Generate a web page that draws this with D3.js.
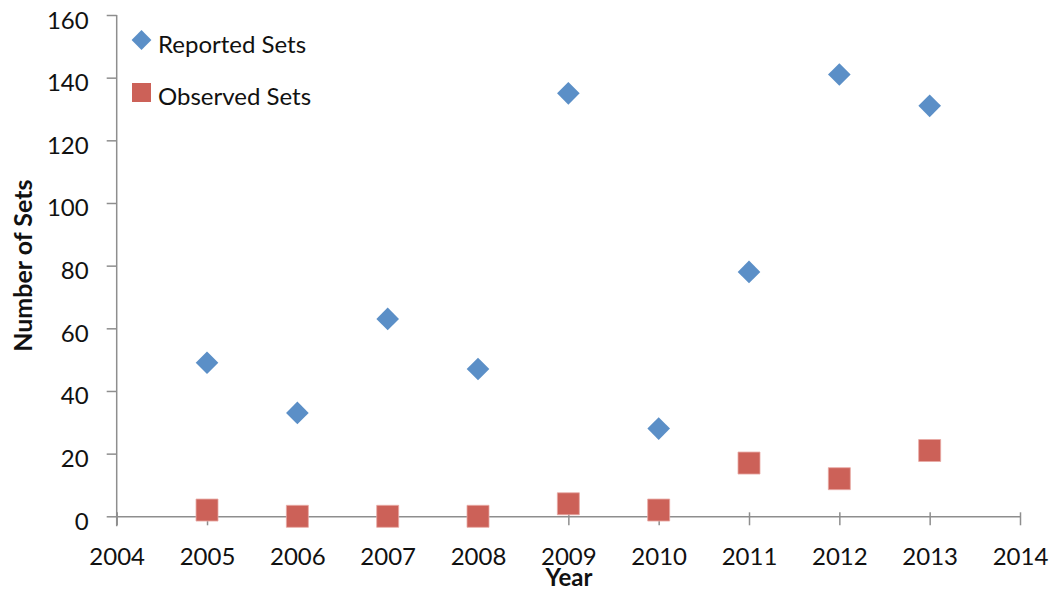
<!DOCTYPE html>
<html>
<head>
<meta charset="utf-8">
<script src="https://cdn.jsdelivr.net/npm/d3@7"></script>
<style>
  html, body { margin: 0; padding: 0; background: #fff; }
  svg { display: block; }
  text { font-family: Lato, "Open Sans", sans-serif; fill: #111; }
</style>
</head>
<body>
<svg id="chart" width="1050" height="590"></svg>
<script>
const years = [2005, 2006, 2007, 2008, 2009, 2010, 2011, 2012, 2013];
const reportedSets = [49, 33, 63, 47, 135, 28, 78, 141, 131];
const observedSets = [2, 0, 0, 0, 4, 2, 17, 12, 21];
const xTicks = [2004, 2005, 2006, 2007, 2008, 2009, 2010, 2011, 2012, 2013, 2014];
const yTicks = [0, 20, 40, 60, 80, 100, 120, 140, 160];
const seriesNames = ["Reported Sets", "Observed Sets"];
const seriesColors = ["#5b8fc7", "#cc6158"];

const svg = d3.select("#chart");
const x = d3.scaleLinear().domain([2004, 2014]).range([116.7, 1020]);
const y = d3.scaleLinear().domain([0, 160]).range([516.3, 15]);
const axisColor = "#8e8e8e";

// Y axis
const yAxis = svg.append("g")
  .attr("transform", `translate(${x(2004)},0)`)
  .call(d3.axisLeft(y).tickValues(yTicks).tickSize(10).tickFormat(d3.format("d")));
yAxis.select(".domain").attr("stroke", axisColor).attr("stroke-width", 1.5)
  .attr("d", `M-0,${y(160)}V${y(0) + 10}`);
yAxis.selectAll(".tick line").attr("stroke", axisColor).attr("stroke-width", 1.5);
yAxis.selectAll(".tick text")
  .attr("x", -28).attr("dy", 0).attr("y", 13)
  .style("font-size", "24px").style("font-family", "Lato, 'Open Sans', sans-serif")
  .attr("fill", "#111");

// X axis
const xAxis = svg.append("g")
  .attr("transform", `translate(0,${y(0)})`)
  .call(d3.axisBottom(x).tickValues(xTicks).tickSizeInner(9).tickSizeOuter(0).tickFormat(d3.format("d")));
xAxis.select(".domain").attr("stroke", axisColor).attr("stroke-width", 1.5);
xAxis.selectAll(".tick line").attr("stroke", axisColor).attr("stroke-width", 1.5).attr("y1", -4);
xAxis.selectAll(".tick text")
  .attr("y", 48.5).attr("dy", 0)
  .style("font-size", "24px").style("font-family", "Lato, 'Open Sans', sans-serif")
  .attr("fill", "#111");

// Axis titles
svg.append("text")
  .attr("transform", `translate(31.5,${(y(0) + y(160)) / 2}) rotate(-90)`)
  .attr("text-anchor", "middle")
  .style("font-size", "25px").style("font-weight", "bold")
  .text("Number of Sets");
svg.append("text")
  .attr("x", 569).attr("y", 586)
  .attr("text-anchor", "middle")
  .style("font-size", "24px").style("font-weight", "bold")
  .text("Year");

// Markers
const diamond = d3.symbol().type(d3.symbolSquare).size(16 * 16);
const square = d3.symbol().type(d3.symbolSquare).size(22 * 22);

svg.append("g").selectAll("path")
  .data(years.map((yr, i) => ({ yr, v: reportedSets[i] })))
  .join("path")
  .attr("d", diamond)
  .attr("transform", d => `translate(${x(d.yr)},${y(d.v)}) rotate(45)`)
  .attr("fill", seriesColors[0]);

svg.append("g").selectAll("path")
  .data(years.map((yr, i) => ({ yr, v: observedSets[i] })))
  .join("path")
  .attr("d", square)
  .attr("transform", d => `translate(${x(d.yr)},${y(d.v)})`)
  .attr("fill", seriesColors[1])
  .attr("stroke", "#e8a9a4").attr("stroke-width", 0.8);

// Legend
const legend = svg.append("g");
const legendRows = [
  { name: seriesNames[0], color: seriesColors[0], sym: d3.symbol().type(d3.symbolSquare).size(14 * 14), rot: 45, cy: 40, ty: 53 },
  { name: seriesNames[1], color: seriesColors[1], sym: d3.symbol().type(d3.symbolSquare).size(19 * 19), rot: 0, cy: 92.5, ty: 104.5 }
];
legendRows.forEach(r => {
  legend.append("path").attr("d", r.sym)
    .attr("transform", `translate(141.5,${r.cy}) rotate(${r.rot})`)
    .attr("fill", r.color);
  legend.append("text").attr("x", 158).attr("y", r.ty)
    .style("font-size", "24px").text(r.name);
});
</script>
</body>
</html>
